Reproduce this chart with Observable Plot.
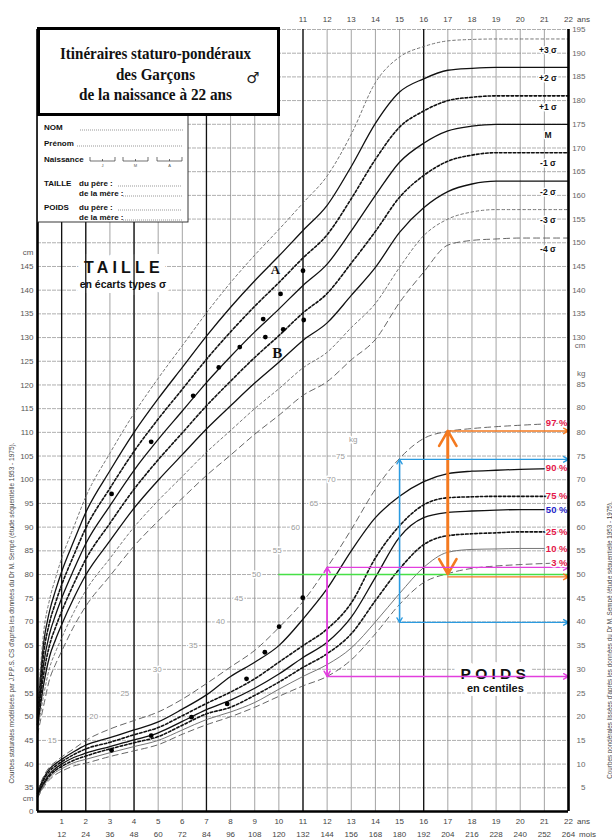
<!DOCTYPE html>
<html><head><meta charset="utf-8">
<script src="https://cdn.jsdelivr.net/npm/d3@7"></script>
<script src="https://cdn.jsdelivr.net/npm/@observablehq/plot@0.6"></script>
<style>
html,body{margin:0;padding:0;background:#fff;}
#wrap{position:relative;width:612px;height:839px;overflow:hidden;}
</style></head>
<body><div id="wrap"></div>
<script>
// ---------- DATA ----------
const ages = [0,0.25,0.5,0.75,1,1.5,2,3,4,5,6,7,8,9,10,11,12,13,14,15,16,17,18,19,20,22];

// Height (cm), standard-deviation curves
const hPlus3  = [51.1,67.6,74.7,79.3,83.4,90.0,96.4,105.6,114.0,121.4,128.3,135.2,141.6,147.4,152.8,158.4,164.1,172.9,183.8,189.2,191.4,192.6,192.9,193.0,193.0,193.0];
const hPlus2  = [50.4,65.4,72.3,76.7,80.6,87.0,93.1,101.9,110.0,117.1,123.7,130.3,136.4,142.0,147.2,152.6,157.9,166.1,175.2,181.8,184.6,186.4,186.8,187.0,187.0,187.0];
const hPlus1  = [49.7,63.2,69.9,74.1,77.8,84.0,89.8,98.2,106.0,112.8,119.1,125.4,131.2,136.6,141.6,146.8,151.7,159.3,167.6,174.4,177.8,180.0,180.7,181.0,181.0,181.0];
const hMedian = [49.0,61.0,67.5,71.5,75.0,81.0,86.5,94.5,102.0,108.5,114.5,120.5,126.0,131.2,136.0,141.0,145.5,152.5,160.0,167.0,171.0,173.6,174.6,175.0,175.0,175.0];
const hMinus1 = [48.3,58.8,65.1,68.9,72.2,78.0,83.2,90.8,98.0,104.2,109.9,115.6,120.8,125.8,130.4,135.2,139.3,145.7,152.4,159.6,164.2,167.2,168.5,169.0,169.0,169.0];
const hMinus2 = [47.6,56.6,62.7,66.3,69.4,75.0,79.9,87.1,94.0,99.9,105.3,110.7,115.6,120.4,124.8,129.4,133.1,138.9,144.8,152.2,157.4,160.8,162.4,163.0,163.0,163.0];
const hMinus3 = [46.9,54.4,60.3,63.7,66.6,72.0,76.6,83.4,90.0,95.6,100.7,105.8,110.4,115.0,119.2,123.6,126.9,132.1,137.2,144.8,151.5,155.0,156.5,157.0,157.0,157.0];
const hMinus4 = [46.2,52.2,57.9,61.1,63.8,69.0,73.3,79.7,86.0,91.3,96.1,100.9,105.2,109.6,113.6,117.8,120.7,125.3,129.6,137.4,143.8,149.5,150.5,150.8,151.0,151.0];
const sigmaLabels = ["+3 σ","+2 σ","+1 σ","M","-1 σ","-2 σ","-3 σ","-4 σ"];

// Weight (kg), centile curves
const w97 = [4.3,7.4,9.4,10.5,11.5,13.2,15.0,17.4,19.2,21.0,23.7,27.0,30.5,34.0,38.8,44.3,51.5,59.5,68.0,74.5,78.7,80.2,80.8,81.2,81.5,82.0];
const w90 = [4.0,7.0,9.0,10.1,11.0,12.6,14.0,15.6,17.2,18.9,21.6,24.6,28.5,31.5,35.0,40.6,47.0,55.0,62.0,66.5,69.6,71.3,71.8,72.0,72.2,72.4];
const w75 = [3.8,6.6,8.5,9.6,10.5,12.0,13.2,14.6,16.2,17.7,20.2,22.8,25.2,28.0,31.5,35.0,38.5,44.0,53.5,60.3,64.7,66.2,66.4,66.5,66.5,66.5];
const w50 = [3.4,6.0,7.9,9.1,10.0,11.4,12.3,13.7,15.1,16.6,19.0,21.5,23.5,26.0,29.0,32.5,35.7,41.0,49.4,57.9,62.0,63.1,63.4,63.6,63.7,63.7];
const w25 = [3.2,5.7,7.5,8.7,9.5,10.8,11.7,13.2,14.5,15.8,18.2,20.6,22.0,24.5,27.3,30.4,33.3,37.5,44.5,51.2,56.3,58.2,58.6,58.8,59.0,59.0];
const w10 = [3.0,5.4,7.1,8.3,9.0,10.3,11.0,12.4,13.7,15.0,17.2,19.4,21.0,23.0,25.8,28.5,31.0,34.5,40.0,46.0,51.5,54.7,55.3,55.4,55.5,55.5];
const w03 = [2.8,5.1,6.7,7.8,8.5,9.6,10.2,11.6,12.8,14.1,16.3,18.3,20.0,22.0,24.3,26.5,28.5,32.0,37.5,43.7,48.3,50.2,51.3,51.8,52.1,52.5];
const centileLabels = ["97 %","90 %","75 %","50 %","25 %","10 %","3 %"];

// Child's measurements
const heightDotAges   = [3.07,4.71,6.45,7.51,8.38,9.35,10.07,11.0,9.44,10.18,11.03];
const heightDotValues = [97,108,117.7,123.7,128,133.9,139.2,144.1,130.1,131.7,133.7];
const weightDotAges   = [3.07,4.71,6.38,7.86,8.66,9.42,10.01,10.99];
const weightDotValues = [12.9,16.0,19.9,22.7,28.0,33.6,39.0,45.1];

// Annotation arrows (age, low kg, high kg, horizontal low, horizontal high)
const arrowAges  = [17,15,12];
const arrowLow   = [50.1,39.9,28.5];
const arrowHigh  = [80.3,74.3,51.5];
const arrowLowH  = [49.5,39.9,28.5];
const arrowHighH = [80.3,74.3,51.5];
const greenLevel = 50, greenFrom = 10;

// Axis labels
const leftCm = d3.range(35,150,5);
const rightCmVals = [195,190,185,180,175,170,165,160,155,150,145,140,135,130];
const rightKgVals = [80,75,70,65,60,55,50,45,40,35,30,25,20,15,10,5];
const rightExtraText = ["cm","kg","85","80"];
const rightExtraKg = [98.3,92.4,90.1,85.2];
const topYears = d3.range(11,23);
const bottomYears = d3.range(1,23);
const months = d3.range(12,265,12);
const thickYears = [1,2,4,7,11,16];
const kgTickValues = [15,20,25,30,35,40,45,50,55,60,65,70,75];
const kgTickAges   = [0.61,2.33,3.62,4.96,6.45,7.58,8.34,9.07,9.93,10.69,11.45,12.17,12.55];

// ---------- BUILD ----------
const H_OFFSET = 30; // cm share the vertical scale with kg: 80 cm is level with 50 kg
const hy = h => h - H_OFFSET;

const hSeries = [hPlus3,hPlus2,hPlus1,hMedian,hMinus1,hMinus2,hMinus3,hMinus4];
const hKinds  = ["light","solid","dense","solid","dense","solid","light","long"];
const wSeries = [w97,w90,w75,w50,w25,w10,w03];
const wKinds  = ["long","solid","dense","solid","dense","thin","long"];

const rows = [];
hSeries.forEach((s,k)=>s.forEach((v,i)=>rows.push({age:ages[i], y:hy(v), id:"h"+k, kind:hKinds[k]})));
wSeries.forEach((s,k)=>s.forEach((v,i)=>rows.push({age:ages[i], y:v, id:"w"+k, kind:wKinds[k]})));

const kindStyle = {
  solid:{stroke:"#111", strokeWidth:1.3},
  dense:{stroke:"#111", strokeWidth:1.6, strokeDasharray:"2.6,2"},
  light:{stroke:"#666", strokeWidth:0.9, strokeDasharray:"2.6,2.6"},
  long:{stroke:"#555", strokeWidth:0.9, strokeDasharray:"6,4"},
  thin:{stroke:"#666", strokeWidth:0.9}
};
const lineMarks = Object.keys(kindStyle).map(k =>
  Plot.line(rows.filter(r=>r.kind===k), {x:"age", y:"y", z:"id", curve:"monotone-x", ...kindStyle[k]}));

const arrowColors = ["#f47a20","#2b9be0","#e23fde"];
const arrowWidths = [2.6,1.3,1.5];
const arrowHeads  = [10,6,6];
const arrowMarks = [];
arrowAges.forEach((a,i)=>{
  const c = arrowColors[i];
  arrowMarks.push(Plot.arrow([0], {x1:()=>a, x2:()=>a, y1:()=>arrowLow[i], y2:()=>arrowHigh[i], stroke:c, strokeWidth:arrowWidths[i], headLength:arrowHeads[i]}));
  arrowMarks.push(Plot.arrow([0], {x1:()=>a, x2:()=>a, y1:()=>arrowHigh[i], y2:()=>arrowLow[i], stroke:c, strokeWidth:arrowWidths[i], headLength:arrowHeads[i]}));
  arrowMarks.push(Plot.arrow([0], {x1:()=>a, x2:()=>22, y1:()=>arrowHighH[i], y2:()=>arrowHighH[i], stroke:c, strokeWidth:1.4, headLength:6}));
  arrowMarks.push(Plot.arrow([0], {x1:()=>a, x2:()=>22, y1:()=>arrowLowH[i], y2:()=>arrowLowH[i], stroke:c, strokeWidth:1.4, headLength:6}));
});

const halo = {stroke:"white", strokeWidth:3, paintOrder:"stroke"};
const gridY = d3.range(5,166,5);

const plot = Plot.plot({
  width:612, height:839,
  marginLeft:37, marginRight:44, marginTop:29, marginBottom:28,
  x:{domain:[0,22], axis:null},
  y:{domain:[0,165], axis:null},
  style:{background:"white", fontFamily:"'Liberation Sans', Arial, sans-serif", fontSize:"8px", overflow:"visible"},
  marks:[
    Plot.ruleY(gridY, {stroke:"#8d8d8d", strokeWidth:0.7, strokeDasharray:"4,1"}),
    Plot.ruleX(d3.range(1,22), {stroke:"#8d8d8d", strokeWidth:0.8}),
    // big section labels (halo hides the grid behind them)
    Plot.text(["TAILLE"], {x:()=>3.58, y:()=>hy(144.8), fontSize:16, fontWeight:"bold", fill:"#111", stroke:"white", strokeWidth:14, paintOrder:"stroke"}),
    Plot.text(["en écarts types σ"], {x:()=>3.54, y:()=>hy(141.2), fontSize:10.5, fontWeight:"bold", fill:"#111", stroke:"white", strokeWidth:10, paintOrder:"stroke"}),
    Plot.text(["POIDS"], {x:()=>18.97, y:()=>29.1, fontSize:15.5, fontWeight:"bold", fill:"#111", stroke:"white", strokeWidth:14, paintOrder:"stroke"}),
    Plot.text(["en centiles"], {x:()=>18.97, y:()=>25.9, fontSize:11, fontWeight:"bold", fill:"#111", stroke:"white", strokeWidth:8, paintOrder:"stroke"}),
    Plot.ruleX(thickYears, {stroke:"#111", strokeWidth:1.3}),
    // inline kg scale along the weight curves
    Plot.text(kgTickValues, {x:(d,i)=>kgTickAges[i], y:d=>d, text:d=>String(d), fill:"#9a9a9a", fontSize:8, ...halo}),
    Plot.text(["kg"], {x:()=>13.08, y:()=>78.6, fill:"#9a9a9a", fontSize:8, ...halo}),
    ...lineMarks,
    Plot.ruleY([greenLevel], {x1:greenFrom, x2:22, stroke:"#46e046", strokeWidth:1.5}),
    ...arrowMarks,
    Plot.dot(heightDotAges, {x:d=>d, y:(d,i)=>hy(heightDotValues[i]), r:2.4, fill:"#000"}),
    Plot.dot(weightDotAges, {x:d=>d, y:(d,i)=>weightDotValues[i], r:2.4, fill:"#000"}),
    Plot.text(["A"], {x:()=>9.86, y:()=>hy(144.3), fontFamily:"'Liberation Serif', serif", fontWeight:"bold", fontSize:13, fill:"#111"}),
    Plot.text(["B"], {x:()=>9.93, y:()=>hy(126.6), fontFamily:"'Liberation Serif', serif", fontWeight:"bold", fontSize:15, fill:"#111"}),
    // curve labels
    Plot.text(hSeries, {x:()=>21.15, y:d=>hy(d[d.length-1]), text:(d,i)=>sigmaLabels[i], dy:11, fontSize:8.5, fontWeight:"bold", fill:"#111", ...halo}),
    Plot.text(wSeries, {x:()=>22, y:d=>d[d.length-1], text:(d,i)=>centileLabels[i], dx:-1, textAnchor:"end", fontSize:9.5, fontWeight:"bold", fill:(d,i)=>i===3?"#2323c8":"#e3174a", ...halo}),
    // frame
    Plot.ruleX([0,22], {stroke:"#000", strokeWidth:2.6}),
    Plot.ruleY([0], {stroke:"#000", strokeWidth:2.6}),
    // axes
    Plot.text(leftCm, {y:d=>hy(d), frameAnchor:"left", dx:-4, textAnchor:"end", fill:"#555", fontSize:8}),
    Plot.text(["cm"], {y:()=>117.9, frameAnchor:"left", dx:-4, textAnchor:"end", fill:"#555", fontSize:8}),
    Plot.text(["cm"], {y:()=>2.8, frameAnchor:"left", dx:-4, textAnchor:"end", fill:"#555", fontSize:8}),
    Plot.text(["0"], {y:()=>0, frameAnchor:"left", dx:-4, textAnchor:"end", fill:"#555", fontSize:8}),
    Plot.text(rightCmVals, {y:d=>hy(d), frameAnchor:"right", dx:17, fill:"#666", fontSize:8}),
    Plot.text(rightKgVals, {y:d=>d, frameAnchor:"right", dx:17, fill:"#666", fontSize:8}),
    Plot.text(rightExtraText, {y:(d,i)=>rightExtraKg[i], frameAnchor:"right", dx:17, fill:"#666", fontSize:8}),
    Plot.text(topYears, {x:d=>d, frameAnchor:"top", dy:-13, fill:"#444", fontSize:8}),
    Plot.text(["ans"], {x:()=>22, frameAnchor:"top", dy:-13, dx:15, fill:"#444", fontSize:8}),
    Plot.text(bottomYears, {x:d=>d, frameAnchor:"bottom", dy:12, fill:"#444", fontSize:8}),
    Plot.text(["ans"], {x:()=>22, frameAnchor:"bottom", dy:12, dx:15, fill:"#444", fontSize:8}),
    Plot.text(months, {x:d=>d/12, frameAnchor:"bottom", dy:25, fill:"#444", fontSize:8}),
    Plot.text(["mois"], {x:()=>22, frameAnchor:"bottom", dy:25, dx:19, fill:"#444", fontSize:8})
  ]
});
document.getElementById("wrap").appendChild(plot);

// ---------- LAYOUT DECORATIONS (form header) ----------
const svg = d3.select(plot);
svg.selectAll("text").filter(function(){return this.textContent==="TAILLE";}).attr("letter-spacing","4.2");
svg.selectAll("text").filter(function(){return this.textContent==="POIDS";}).attr("letter-spacing","4.3");

const deco = svg.append("g");
// side notes
deco.append("text").attr("transform","translate(12,613) rotate(-90)").attr("text-anchor","middle").attr("dy","0.32em")
  .attr("font-size",6.5).attr("fill","#444").attr("font-family","'Liberation Sans', Arial, sans-serif")
  .text("Courbes staturales modélisées par J.P.P.S. CS d'après les données du Dr M. Sempé (étude séquentielle 1953 - 1975).");
deco.append("text").attr("transform","translate(610,640) rotate(-90)").attr("text-anchor","middle").attr("dy","0.32em")
  .attr("font-size",6.3).attr("fill","#444").attr("font-family","'Liberation Sans', Arial, sans-serif")
  .text("Courbes pondérales lissées d'après les données du Dr M. Sempé (étude séquentielle 1953 - 1975).");

// info box
deco.append("rect").attr("x",37.5).attr("y",115).attr("width",150.5).attr("height",107).attr("fill","#fff").attr("stroke","#222").attr("stroke-width",0.9);
const form = deco.append("g").attr("font-family","'Liberation Sans', Arial, sans-serif").attr("font-weight","bold").attr("font-size",8).attr("fill","#111").attr("text-anchor","start");
[["NOM",44,130],["Prénom",44,146],["Naissance",44,162],["TAILLE",44,186],["du père :",79,186],["de la mère :",79,196],["POIDS",44,210],["du père :",79,210],["de la mère :",79,220]]
  .forEach(([t,x,y])=>form.append("text").attr("x",x).attr("y",y).attr("text-anchor","start").text(t));
[[80,130,183],[77,146,183],[118,186,182],[123,196,182],[118,210,182],[123,220,182]]
  .forEach(([x1,y,x2])=>deco.append("line").attr("x1",x1).attr("x2",x2).attr("y1",y).attr("y2",y).attr("stroke","#555").attr("stroke-width",0.6).attr("stroke-dasharray","1,1"));
[[90,"J"],[123,"M"],[157,"A"]].forEach(([x0,l])=>{
  deco.append("path").attr("d",`M${x0},157V161H${x0+25}V157M${x0+12.5},159V161`).attr("fill","none").attr("stroke","#333").attr("stroke-width",0.7);
  deco.append("text").attr("x",x0+12.5).attr("y",167).attr("text-anchor","middle").attr("font-size",4).attr("fill","#555").attr("font-family","'Liberation Sans', Arial, sans-serif").text(l);
});
// title box
deco.append("rect").attr("x",38.5).attr("y",28.5).attr("width",240).attr("height",86).attr("fill","#fff").attr("stroke","#000").attr("stroke-width",3);
[["Itinéraires staturo-pondéraux",59,191],["des Garçons",80,79],["de la naissance à 22 ans",100,153]].forEach(([t,y,len])=>{
  deco.append("text").attr("x",155.5).attr("y",y).attr("text-anchor","middle").attr("font-family","'Liberation Serif', 'DejaVu Serif', serif")
    .attr("font-weight","bold").attr("font-size",17).attr("fill","#111").attr("textLength",len).attr("lengthAdjust","spacingAndGlyphs").text(t);
});
deco.append("text").attr("x",253).attr("y",83).attr("text-anchor","middle").attr("font-family","'DejaVu Sans', sans-serif").attr("font-weight","normal").attr("font-size",15).attr("fill","#222").text("♂");
</script>
</body></html>
